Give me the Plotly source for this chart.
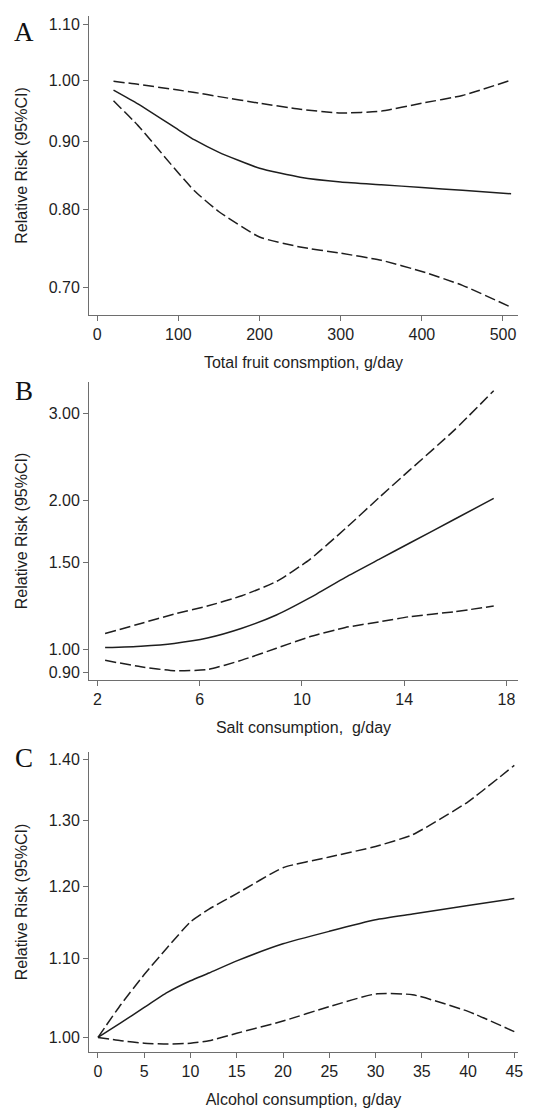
import numpy as np
import plotly.graph_objects as go

# ---- Panel A: total fruit consumption ----
fruit_x = [20, 50, 100, 120, 150, 200, 250, 300, 350, 400, 450, 510]
fruit_rr = [0.983, 0.960, 0.918, 0.902, 0.883, 0.859, 0.846, 0.839, 0.835, 0.831, 0.827, 0.822]
fruit_hi = [0.998, 0.993, 0.983, 0.979, 0.972, 0.961, 0.951, 0.945, 0.948, 0.961, 0.974, 1.000]
fruit_lo = [0.965, 0.925, 0.852, 0.826, 0.797, 0.763, 0.750, 0.742, 0.733, 0.719, 0.702, 0.676]

# ---- Panel B: salt consumption ----
salt_x = [2.3, 3.7, 5.0, 6.3, 7.65, 9.0, 10.3, 11.7, 13.05, 14.2, 15.95, 17.5]
salt_rr = [1.010, 1.017, 1.030, 1.056, 1.105, 1.175, 1.272, 1.400, 1.525, 1.640, 1.831, 2.020]
salt_hi = [1.078, 1.130, 1.180, 1.225, 1.285, 1.373, 1.520, 1.756, 2.035, 2.300, 2.770, 3.330]
salt_lo = [0.952, 0.924, 0.907, 0.912, 0.953, 1.007, 1.062, 1.109, 1.139, 1.166, 1.193, 1.225]

# ---- Panel C: alcohol consumption ----
alc_x = [0, 2.5, 5, 7.5, 10, 12, 15, 20, 25, 30, 34, 40, 45]
alc_rr = [1.000, 1.018, 1.037, 1.056, 1.071, 1.081, 1.097, 1.120, 1.137, 1.153, 1.161, 1.173, 1.183]
alc_hi = [1.000, 1.041, 1.079, 1.115, 1.150, 1.168, 1.190, 1.228, 1.244, 1.260, 1.278, 1.330, 1.390]
alc_lo = [1.000, 0.996, 0.993, 0.992, 0.993, 0.996, 1.005, 1.020, 1.038, 1.054, 1.053, 1.032, 1.007]

fruit_yticks = [0.70, 0.80, 0.90, 1.00, 1.10]
salt_yticks = [0.90, 1.00, 1.50, 2.00, 3.00]
alc_yticks = [1.00, 1.10, 1.20, 1.30, 1.40]
fruit_xticks = [0, 100, 200, 300, 400, 500]
salt_xticks = [2, 6, 10, 14, 18]
alc_xticks = [0, 5, 10, 15, 20, 25, 30, 35, 40, 45]

# page body has an 8px margin, so the figure is placed 8px in from the top-left
W, H = 534, 1102
OFF = 8
LINE = "#1e1e1e"
AXC = "#6e6e6e"
TXT = "#1e1e1e"
FONT = "Liberation Sans, Arial, sans-serif"
DASH = "11px,4px"

fig = go.Figure()

panels = [
    dict(x=fruit_x, rr=fruit_rr, hi=fruit_hi, lo=fruit_lo, yt=fruit_yticks, xt=fruit_xticks,
         xr=[-10.2, 518.5], yr=[0.667, 1.117], top=16, bot=315,
         xtitle="Total fruit consmption, g/day", letter="A", ly=33),
    dict(x=salt_x, rr=salt_rr, hi=salt_hi, lo=salt_lo, yt=salt_yticks, xt=salt_xticks,
         xr=[1.67, 18.45], yr=[0.869, 3.468], top=382, bot=680,
         xtitle="Salt consumption,\u00a0 g/day", letter="B", ly=392),
    dict(x=alc_x, rr=alc_rr, hi=alc_hi, lo=alc_lo, yt=alc_yticks, xt=alc_xticks,
         xr=[-0.97, 45.4], yr=[0.9825, 1.4126], top=752, bot=1052,
         xtitle="Alcohol consumption, g/day", letter="C", ly=759),
]

x0, x1 = (89 - OFF) / W, (518 - OFF) / W
for i, p in enumerate(panels, start=1):
    xa = "x" if i == 1 else f"x{i}"
    ya = "y" if i == 1 else f"y{i}"
    for series, dash in ((p["hi"], DASH), (p["rr"], "solid"), (p["lo"], DASH)):
        fig.add_trace(go.Scatter(x=p["x"], y=series, mode="lines", xaxis=xa, yaxis=ya,
                                 line=dict(color=LINE, width=1.5, dash=dash, shape="spline", smoothing=0.5),
                                 showlegend=False, hoverinfo="skip"))
    xkey = "xaxis" if i == 1 else f"xaxis{i}"
    ykey = "yaxis" if i == 1 else f"yaxis{i}"
    fig.layout[xkey] = dict(
        domain=[x0, x1], range=p["xr"], anchor=ya, showgrid=False, zeroline=False,
        showline=True, linecolor=AXC, linewidth=1, ticks="outside", ticklen=5, tickcolor=AXC,
        tickvals=p["xt"], ticktext=[str(v) for v in p["xt"]],
        tickfont=dict(family=FONT, size=16, color=TXT),
        title=dict(text=p["xtitle"], font=dict(family=FONT, size=16, color=TXT), standoff=14),
        automargin=False,
    )
    fig.layout[ykey] = dict(
        domain=[1 - (p["bot"] - OFF) / H, 1 - (p["top"] - OFF) / H], type="log",
        range=[np.log10(p["yr"][0]), np.log10(p["yr"][1])], anchor=xa,
        showgrid=False, zeroline=False, showline=True, linecolor=AXC, linewidth=1,
        ticks="outside", ticklen=5, tickcolor=AXC,
        tickvals=p["yt"], ticktext=[f"{v:.2f}" for v in p["yt"]],
        tickfont=dict(family=FONT, size=16, color=TXT),
        title=dict(text="Relative Risk (95%CI)", font=dict(family=FONT, size=16, color=TXT), standoff=17),
        automargin=False,
    )
    fig.add_annotation(text=p["letter"], xref="paper", yref="paper",
                       x=(24 - OFF) / W, y=1 - (p["ly"] - OFF - 1) / H,
                       xanchor="center", yanchor="middle", showarrow=False,
                       font=dict(family="Liberation Serif, Times New Roman, serif", size=27, color="#111"))

fig.update_layout(width=W, height=H, margin=dict(l=0, r=0, t=0, b=0),
                  paper_bgcolor="white", plot_bgcolor="white")
fig.write_html("out.html")
